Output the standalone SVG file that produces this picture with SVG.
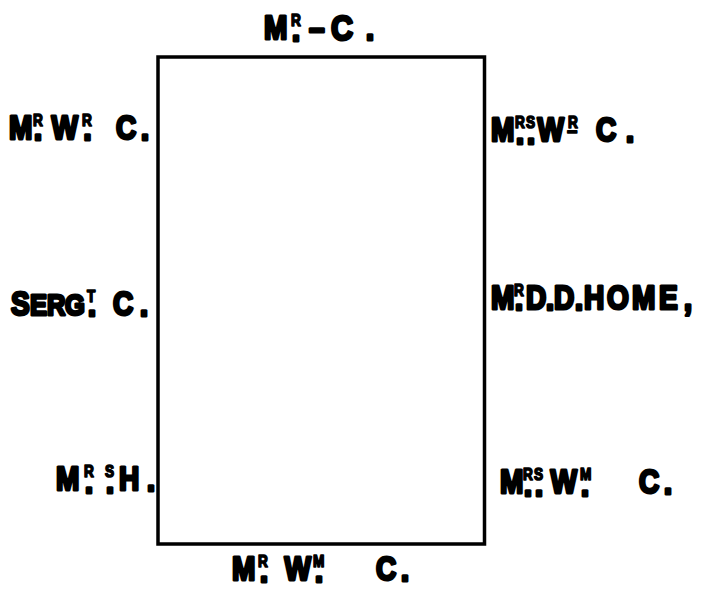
<svg xmlns="http://www.w3.org/2000/svg" width="704" height="589" viewBox="0 0 704 589">
<style>
.t{font-family:"Liberation Sans",Arial,sans-serif;font-weight:bold;font-size:33px;fill:#000;stroke:#000;stroke-width:3px;stroke-linejoin:round}
.s{font-size:16px;stroke-width:1.6px}
.d{font-size:36px}
.sc{font-size:30px}
.u{font-size:22px;stroke-width:1.6px}
.big{font-size:36px}
.table{fill:none;stroke:#000;stroke-width:3.5;stroke-linejoin:miter}
</style>
<rect width="704" height="589" fill="#fff"/>
<g id="table"><rect class="table" x="158" y="57" width="326.5" height="487"/></g>
<g id="connectors"></g>
<g transform="scale(0.85,1)">
<g id="top-mr-c"><text class="t"><tspan x="310.6" y="39">M</tspan><tspan class="s" x="342.4" y="26">R</tspan><tspan class="d" x="343.2" y="41">.</tspan><tspan x="363.5" y="39">–</tspan><tspan class="big" x="389.4" y="40">C</tspan><tspan class="d" x="430.2" y="40">.</tspan></text></g>
<g id="left-mr-wr-c"><text class="t"><tspan x="10.6" y="139">M</tspan><tspan class="s" x="38.8" y="126">R</tspan><tspan class="d" x="39.6" y="140">.</tspan><tspan x="60.6" y="139">W</tspan><tspan class="s" x="96.5" y="126">R</tspan><tspan class="d" x="97.9" y="140">.</tspan><tspan x="136.5" y="139">C</tspan><tspan class="d" x="165.5" y="140">.</tspan></text></g>
<g id="right-mrs-wr-c"><text class="t"><tspan x="577.6" y="141">M</tspan><tspan class="s" x="605.9" y="128">R</tspan><tspan class="s" x="618.8" y="128">S</tspan><tspan class="d" x="606.7" y="144">.</tspan><tspan class="d" x="619.7" y="144">.</tspan><tspan x="632.4" y="141">W</tspan><tspan class="s" x="668.2" y="128">R</tspan><tspan class="u" x="667.1" y="138">–</tspan><tspan x="701.2" y="141">C</tspan><tspan class="d" x="736.3" y="142">.</tspan></text></g>
<g id="left-sergt-c"><text class="t"><tspan x="12.9" y="315">S</tspan><tspan class="sc" x="35.3" y="315">E</tspan><tspan class="sc" x="55.3" y="315">R</tspan><tspan class="sc" x="76.5" y="315">G</tspan><tspan class="s" x="102.4" y="302">T</tspan><tspan class="d" x="103.2" y="316">.</tspan><tspan x="132.9" y="315">C</tspan><tspan class="d" x="164.4" y="316">.</tspan></text></g>
<g id="right-mr-dd-home"><text class="t"><tspan x="577.6" y="309">M</tspan><tspan class="s" x="604.7" y="296">R</tspan><tspan class="d" x="605.5" y="310">.</tspan><tspan x="618.8" y="309">D</tspan><tspan class="d" x="642" y="310">.</tspan><tspan x="651.8" y="309">D</tspan><tspan class="d" x="676.1" y="310">.</tspan><tspan x="687.1" y="309">H</tspan><tspan x="714.1" y="309">O</tspan><tspan x="743.5" y="309">M</tspan><tspan x="775.3" y="309">E</tspan><tspan class="d" x="804.4" y="310">,</tspan></text></g>
<g id="left-mrs-h"><text class="t"><tspan x="65.9" y="490">M</tspan><tspan class="s" x="98.8" y="477">R</tspan><tspan class="s" x="123.5" y="477">S</tspan><tspan class="d" x="99.6" y="493">.</tspan><tspan class="d" x="124.4" y="493">.</tspan><tspan x="140" y="490">H</tspan><tspan class="d" x="172.6" y="491">.</tspan></text></g>
<g id="right-mrs-wm-c"><text class="t"><tspan x="588.2" y="493">M</tspan><tspan class="s" x="615.3" y="480">R</tspan><tspan class="s" x="628.2" y="480">S</tspan><tspan class="d" x="616.1" y="496">.</tspan><tspan class="d" x="629.1" y="496">.</tspan><tspan x="647.6" y="493">W</tspan><tspan class="s" x="682.4" y="480">M</tspan><tspan class="d" x="683.2" y="496">.</tspan><tspan x="751.8" y="493">C</tspan><tspan class="d" x="780.8" y="494">.</tspan></text></g>
<g id="bottom-mr-wm-c"><text class="t"><tspan x="272.9" y="580">M</tspan><tspan class="s" x="303.5" y="567">R</tspan><tspan class="d" x="305.5" y="582">.</tspan><tspan x="334.7" y="580">W</tspan><tspan class="s" x="368.2" y="567">M</tspan><tspan class="d" x="370.2" y="582">.</tspan><tspan x="442.4" y="580">C</tspan><tspan class="d" x="471.4" y="581">.</tspan></text></g>
</g>
</svg>
